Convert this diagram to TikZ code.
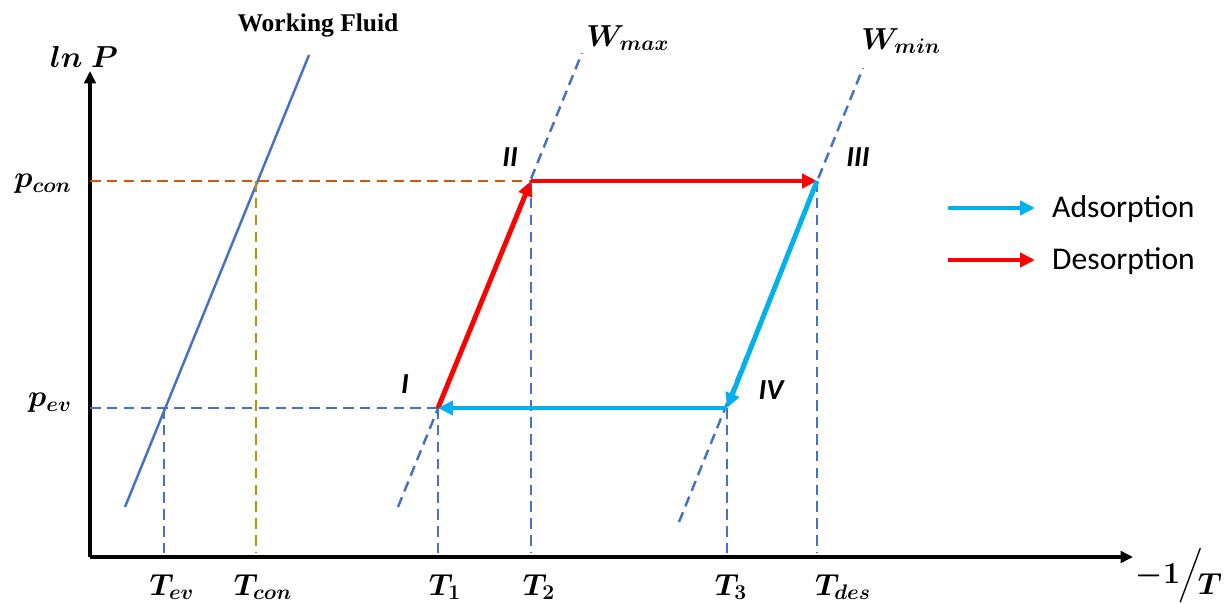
\documentclass[tikz,border=0pt]{standalone}
\usepackage{amsmath}
\usepackage{bm}
\usepackage{fontspec}
\usetikzlibrary{arrows.meta}
\newfontfamily\legendfont{Carlito}
\newfontfamily\fluidfont{Liberation Serif}
\definecolor{fluidblue}{HTML}{4472C4}
\definecolor{conbrown}{HTML}{C55A11}
\definecolor{congold}{HTML}{BF9000}
\definecolor{adscyan}{HTML}{00B0F0}
\definecolor{desred}{HTML}{FF0000}
\tikzset{
  axisline/.style={line width=2.2pt, -{Triangle[length=7pt,width=6.5pt]}},
  guide/.style={line width=1.4pt, dash pattern=on 6pt off 3.6pt},
  cyclearrow/.style={line width=2.8pt, -{Triangle[length=8.5pt,width=8pt]}},
  mathlbl/.style={font=\fontsize{18}{21}\selectfont},
  statelbl/.style={font=\legendfont\bfseries\itshape\fontsize{16.5}{19}\selectfont},
  legendlbl/.style={font=\legendfont\fontsize{18}{21}\selectfont, anchor=west}
}

\begin{document}
\begin{tikzpicture}[x=0.02cm, y=-0.02cm]
  \useasboundingbox (0,0) rectangle (1230,604);
  % Axes
  \coordinate (O) at (90,557);
  \coordinate (ytip) at (90,71);
  \coordinate (xtip) at (1133,557);
  \draw[axisline] (O) -- (ytip);
  \draw[axisline] (O) -- (xtip);
  \node[mathlbl] (lnP) at (84,57) {$\bm{ln\;P}$};
  \node[mathlbl] (xlab) at (1179,576) {$\bm{-1}\mkern-1mu\Big/\mkern-3mu\raisebox{-6pt}{$\bm{T}$}$};
  % Cycle states
  \coordinate (I) at (438,408);
  \coordinate (II) at (531,181);
  \coordinate (III) at (817,181);
  \coordinate (IV) at (727,408);
  \coordinate (fev) at (164,408);
  \coordinate (fcon) at (256,181);
  % Working fluid line
  \coordinate (wfa) at (125,507);
  \coordinate (wfb) at (309,55);
  \draw[fluidblue, line width=1.4pt] (wfa) -- (wfb);
  \node[font=\fluidfont\bfseries\fontsize{14.5}{17}\selectfont] (wf) at (318,25) {Working Fluid};
  % Isosteres
  \coordinate (wmaxa) at (398,507);
  \coordinate (wmaxb) at (582,53);
  \coordinate (wmina) at (679,522);
  \coordinate (wminb) at (863,68);
  \draw[guide, fluidblue] (wmaxa) -- (wmaxb);
  \draw[guide, fluidblue] (wmina) -- (wminb);
  \node[mathlbl] (wmax) at (628,38) {$\bm{W_{max}}$};
  \node[mathlbl] (wmin) at (901,41) {$\bm{W_{min}}$};
  % Pressure levels
  \draw[guide, conbrown] (O |- II) -- (II);
  \draw[guide, fluidblue] (O |- I) -- (I);
  \node[mathlbl] (pcon) at (43,184) {$\bm{p_{con}}$};
  \node[mathlbl] (pev) at (50,403) {$\bm{p_{ev}}$};
  % Temperatures
  \draw[guide, congold] (fcon) -- ([yshift=0.08cm]fcon |- O);
  \foreach \pt in {fev,I,II,IV,III}
    \draw[guide, fluidblue] (\pt) -- ([yshift=0.08cm]\pt |- O);
  \node[mathlbl] (Tev) at (172,587) {$\bm{T_{ev}}$};
  \node[mathlbl] (Tcon) at (263,587) {$\bm{T_{con}}$};
  \node[mathlbl] (T1) at (445,587) {$\bm{T_1}$};
  \node[mathlbl] (T2) at (539,587) {$\bm{T_2}$};
  \node[mathlbl] (T3) at (731,587) {$\bm{T_3}$};
  \node[mathlbl] (Tdes) at (843,587) {$\bm{T_{des}}$};
  % Cycle
  \draw[cyclearrow, desred] (I) -- (II);
  \draw[cyclearrow, desred] (II) -- (III);
  \draw[cyclearrow, adscyan] (III) -- (IV);
  \draw[cyclearrow, adscyan] (IV) -- (I);
  \node[statelbl] (sI) at (405,384) {I};
  \node[statelbl] (sII) at (510,157) {II};
  \node[statelbl] (sIII) at (858,157) {III};
  \node[statelbl] (sIV) at (771,390) {IV};
  % Legend
  \coordinate (adsa) at (948,208);
  \coordinate (adsb) at (1035,208);
  \coordinate (desa) at (948,260);
  \coordinate (desb) at (1035,260);
  \draw[cyclearrow, adscyan] (adsa) -- (adsb);
  \draw[cyclearrow, desred] (desa) -- (desb);
  \node[legendlbl] (ads) at (1046,209) {Adsorption};
  \node[legendlbl] (des) at (1046,261) {Desorption};
\end{tikzpicture}
\end{document}
